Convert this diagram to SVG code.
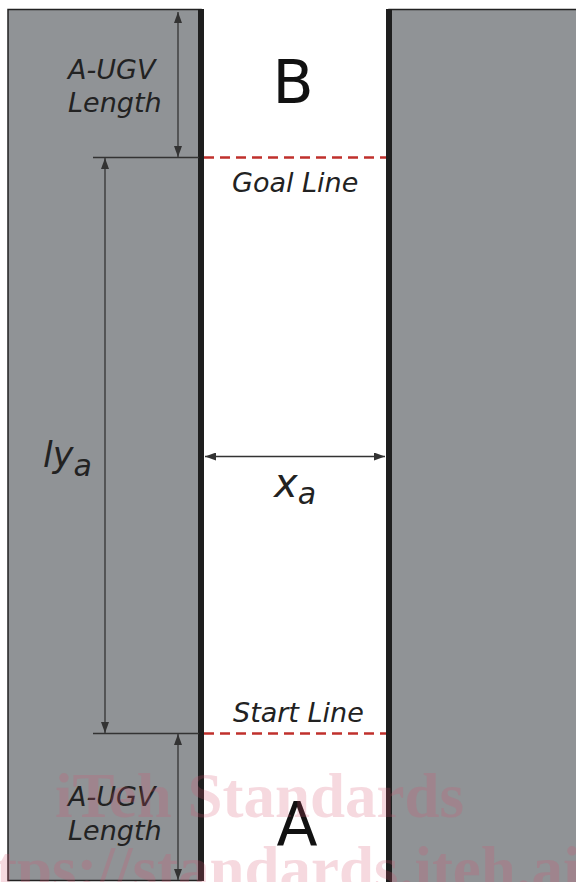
<svg xmlns="http://www.w3.org/2000/svg" width="576" height="882" viewBox="0 0 576 882">
<style>
.wall{fill:#909396;stroke:#222;stroke-width:1.5}
.edge{stroke:#1e1e1e;stroke-width:6}
.dim{stroke:#333;stroke-width:1.3;fill:none}
.red{stroke:#c0302c;stroke-width:2.5;stroke-dasharray:10 6}
.lbl{font-family:"DejaVu Sans",Verdana,sans-serif;font-style:italic;fill:#222;font-size:27px}
.math{font-family:"DejaVu Sans",Verdana,sans-serif;font-style:italic;fill:#222}
.big{font-family:"DejaVu Sans",Verdana,sans-serif;fill:#111;font-size:60px}
.wm{font-family:"Liberation Serif","Times New Roman",serif;font-weight:bold;font-size:63px;fill:#d8506e;fill-opacity:0.22}
</style>
<defs>
<marker id="ah" viewBox="0 0 11 8" refX="11" refY="4" markerWidth="11" markerHeight="8" markerUnits="userSpaceOnUse" orient="auto-start-reverse">
<path d="M0,0 L11,4 L0,8 z" fill="#333"/>
</marker>
</defs>
<rect width="576" height="882" fill="#fff"/>
<g id="left-wall">
<rect class="wall" x="8" y="9.5" width="193" height="871"/>
<line class="edge" x1="201" y1="9" x2="201" y2="881"/>
</g>
<g id="right-wall">
<rect class="wall" x="389" y="9.5" width="200" height="875"/>
<line class="edge" x1="389" y1="9" x2="389" y2="882"/>
</g>
<g id="lines">
<line class="red" x1="204" y1="157.5" x2="386" y2="157.5"/>
<line class="red" x1="204" y1="733.5" x2="386" y2="733.5"/>
</g>
<g id="connectors">
<line class="dim" x1="93" y1="157.5" x2="199" y2="157.5"/>
<line class="dim" x1="93" y1="733.5" x2="199" y2="733.5"/>
<line class="dim" x1="178" y1="12" x2="178" y2="157" marker-start="url(#ah)" marker-end="url(#ah)"/>
<line class="dim" x1="105" y1="158" x2="105" y2="733" marker-start="url(#ah)" marker-end="url(#ah)"/>
<line class="dim" x1="178" y1="734" x2="178" y2="880" marker-start="url(#ah)" marker-end="url(#ah)"/>
<line class="dim" x1="205" y1="456.5" x2="385" y2="456.5" marker-start="url(#ah)" marker-end="url(#ah)"/>
</g>
<g id="labels">
<text class="lbl" x="68" y="79">A-UGV</text>
<text class="lbl" x="68" y="112">Length</text>
<text class="big" x="293" y="103" text-anchor="middle">B</text>
<text class="math" x="43" y="467" style="font-size:35px">ly<tspan style="font-size:30px" dy="9">a</tspan></text>
<text class="math" x="274" y="497" style="font-size:40px">x<tspan style="font-size:30px" dy="7">a</tspan></text>
<text class="lbl" x="232" y="192">Goal Line</text>
<text class="lbl" x="233" y="722">Start Line</text>
<text class="lbl" x="68" y="806">A-UGV</text>
<text class="lbl" x="68" y="840">Length</text>
<text class="big" x="297" y="845" text-anchor="middle">A</text>
</g>
<g id="watermark">
<text class="wm" x="55" y="817">iTeh Standards</text>
<text class="wm" x="-60" y="890">https://standards.iteh.ai</text>
</g>
</svg>
